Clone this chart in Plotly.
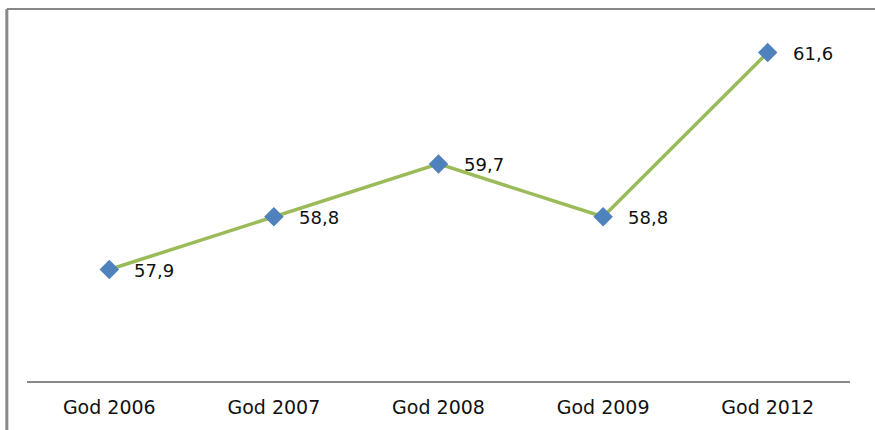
import plotly.graph_objects as go

categories = ["God 2006", "God 2007", "God 2008", "God 2009", "God 2012"]
values = [57.9, 58.8, 59.7, 58.8, 61.6]

LINE_COLOR = "#9BBB59"
MARKER_COLOR = "#4F81BD"
FONT = "DejaVu Sans"

fig = go.Figure()
fig.add_trace(go.Scatter(
    x=categories,
    y=values,
    mode="lines+markers",
    line=dict(color=LINE_COLOR, width=3.5),
    marker=dict(symbol="diamond", size=15, color=MARKER_COLOR,
                line=dict(color=MARKER_COLOR, width=0)),
    hoverinfo="skip",
))

# value labels to the right of each point, with decimal comma
for cat, val in zip(categories, values):
    fig.add_annotation(
        x=cat, y=val, xref="x", yref="y",
        text=f"{val:.1f}".replace(".", ","),
        showarrow=False, xanchor="left", yanchor="middle",
        xshift=23, yshift=-1,
        font=dict(family=FONT, size=18, color="#111111"),
    )

# frame lines on the top and left of the chart area
fig.add_shape(type="line", xref="paper", yref="paper",
              x0=-0.0245, x1=1.05, y0=1.0568, y1=1.0568,
              line=dict(color="#888888", width=2))
fig.add_shape(type="line", xref="paper", yref="paper",
              x0=-0.0245, x1=-0.0245, y0=1.0568, y1=-0.2,
              line=dict(color="#888888", width=3))

fig.update_layout(
    width=875, height=430,
    margin=dict(l=27, r=25, t=29, b=49),
    paper_bgcolor="white",
    plot_bgcolor="white",
    showlegend=False,
    xaxis=dict(
        type="category",
        range=[-0.5, 4.5],
        showline=True, linecolor="#888888", linewidth=1.5,
        showgrid=False, zeroline=False,
        ticks="outside", ticklen=8, tickcolor="rgba(0,0,0,0)",
        tickfont=dict(family=FONT, size=19, color="#111111"),
        fixedrange=True,
    ),
    yaxis=dict(
        range=[56, 62],
        visible=False,
        showgrid=False, zeroline=False,
        fixedrange=True,
    ),
)

fig.write_html("out.html")
